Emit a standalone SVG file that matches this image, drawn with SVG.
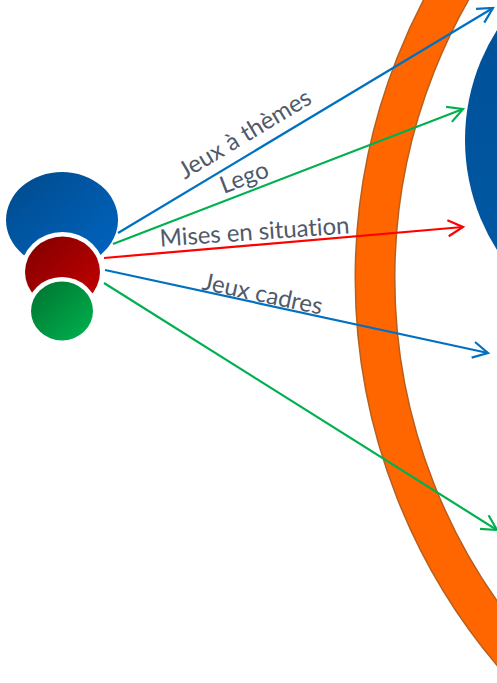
<svg xmlns="http://www.w3.org/2000/svg" width="497" height="683" viewBox="0 0 497 683">
  <style>
    .lbl { font-family: Lato, "Open Sans", "DejaVu Sans", sans-serif; font-size: 24px; fill: #4f5a6b; font-variant-ligatures: none; }
    .ln { fill: none; stroke-width: 2.2; }
    .b { stroke: #0070c0; }
    .g { stroke: #00b050; }
    .r { stroke: #ff0000; }
  </style>
  <defs>
    <linearGradient id="gBlue" x1="0" y1="0" x2="1" y2="1">
      <stop offset="0" stop-color="#004a8c"/>
      <stop offset="1" stop-color="#0066c2"/>
    </linearGradient>
    <linearGradient id="gRed" x1="0" y1="0" x2="1" y2="1">
      <stop offset="0" stop-color="#800000"/>
      <stop offset="1" stop-color="#c80000"/>
    </linearGradient>
    <linearGradient id="gGreen" x1="0" y1="0" x2="1" y2="1">
      <stop offset="0" stop-color="#00722f"/>
      <stop offset="1" stop-color="#00b450"/>
    </linearGradient>
    <linearGradient id="gBig" x1="0" y1="0" x2="0" y2="1">
      <stop offset="0" stop-color="#004e94"/>
      <stop offset="1" stop-color="#005aa6"/>
    </linearGradient>
    <marker id="mB" markerUnits="userSpaceOnUse" markerWidth="20" markerHeight="20" viewBox="0 0 20 20" refX="18" refY="10" orient="auto">
      <path d="M3,2 L18,10 L3,18" fill="none" stroke="#0070c0" stroke-width="2.2"/>
    </marker>
    <marker id="mG" markerUnits="userSpaceOnUse" markerWidth="20" markerHeight="20" viewBox="0 0 20 20" refX="18" refY="10" orient="auto">
      <path d="M3,2 L18,10 L3,18" fill="none" stroke="#00b050" stroke-width="2.2"/>
    </marker>
    <marker id="mR" markerUnits="userSpaceOnUse" markerWidth="20" markerHeight="20" viewBox="0 0 20 20" refX="18" refY="10" orient="auto">
      <path d="M3,2 L18,10 L3,18" fill="none" stroke="#ff0000" stroke-width="2.2"/>
    </marker>
  </defs>

  <g id="ring">
    <circle cx="955" cy="278" r="580" fill="none" stroke="#b85f1e" stroke-width="41"/>
    <circle cx="955" cy="278" r="580" fill="none" stroke="#ff6600" stroke-width="38"/>
  </g>

  <g id="target">
    <circle cx="670" cy="140" r="205" fill="url(#gBig)"/>
  </g>

  <g id="sources">
    <ellipse id="src-blue" cx="62" cy="220" rx="56" ry="48" fill="url(#gBlue)"/>
    <ellipse cx="62.5" cy="272" rx="42" ry="40" fill="#ffffff"/>
    <ellipse id="src-red" cx="62.5" cy="272" rx="37.5" ry="35.5" fill="url(#gRed)"/>
    <ellipse cx="62" cy="311" rx="35.5" ry="34" fill="#ffffff"/>
    <ellipse id="src-green" cx="62" cy="311" rx="31" ry="29.5" fill="url(#gGreen)"/>
  </g>

  <g id="connectors">
    <line class="ln b" x1="118" y1="233" x2="493" y2="8" marker-end="url(#mB)"/>
    <line class="ln g" x1="113" y1="244" x2="463" y2="109" marker-end="url(#mG)"/>
    <line class="ln r" x1="104" y1="258" x2="463" y2="227" marker-end="url(#mR)"/>
    <line class="ln b" x1="105" y1="270" x2="488" y2="353" marker-end="url(#mB)"/>
    <line class="ln g" x1="104" y1="283" x2="497" y2="530" marker-end="url(#mG)"/>
  </g>

  <g id="labels">
    <text class="lbl" text-anchor="middle" transform="translate(249,141) rotate(-31)" textLength="150">Jeux à thèmes</text>
    <text class="lbl" text-anchor="middle" transform="translate(247,185) rotate(-21)" textLength="50">Lego</text>
    <text class="lbl" text-anchor="middle" transform="translate(255,240) rotate(-4)" textLength="190">Mises en situation</text>
    <text class="lbl" text-anchor="middle" transform="translate(261,302) rotate(12)" textLength="122">Jeux cadres</text>
  </g>
</svg>
